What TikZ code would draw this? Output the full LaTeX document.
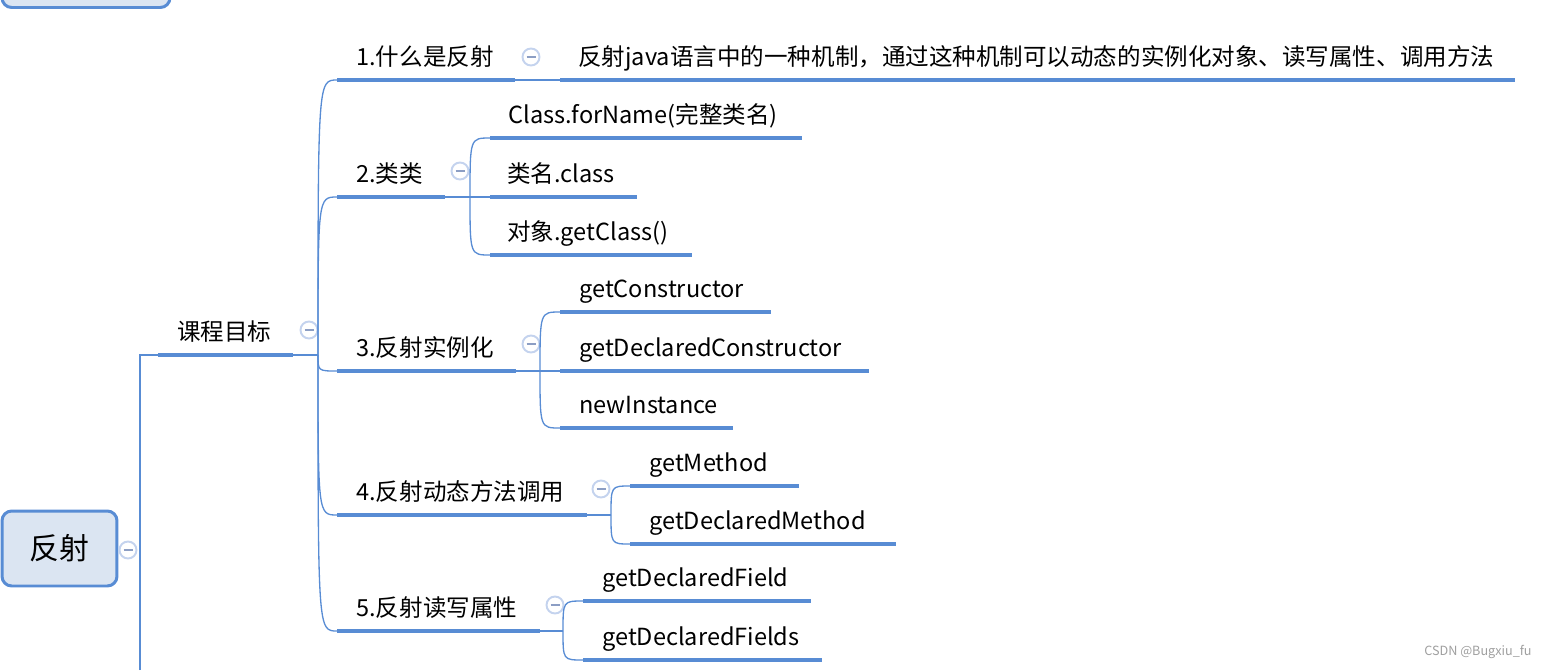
\documentclass[tikz,border=0pt]{standalone}
\usepackage{fontspec}
\setmainfont{Noto Sans CJK SC}
\usetikzlibrary{calc}
\definecolor{mmblue}{RGB}{88,140,212}
\definecolor{mmfill}{RGB}{219,229,242}
\definecolor{mmring}{RGB}{196,211,238}
\definecolor{mmminus}{RGB}{140,158,196}
\tikzset{
  fold/.style={circle,draw=mmring,line width=1.1pt,fill=white,
               minimum size=0.34cm,inner sep=0pt,
               path picture={\draw[mmminus,line width=0.8pt]
                 (path picture bounding box.center) +(-4.5,0) -- +(4.5,0);}},
}
\begin{document}
\begin{tikzpicture}[
  x=0.02cm,y=-0.02cm,
  every node/.style={font=\fontsize{13.4}{16}\selectfont},
  topic/.style={anchor=base west,inner sep=0pt},
  uline/.style={draw=mmblue,line width=2.3pt},
  conn/.style={draw=mmblue,line width=0.75pt},
  rootbox/.style={draw=mmblue,line width=1.7pt,fill=mmfill,rounded corners=5.5pt,
                  minimum width=2.3cm,minimum height=1.5cm,
                  font=\fontsize{17}{20}\selectfont}
]
\clip (0,0) rectangle (1547,670);

% cut-off topic above and the central topic
\node[rootbox,minimum width=3.36cm] (prev) at (86,-30) {};
\node[rootbox] (root) at (59.5,548.5) {反射};
\node[fold] (f0) at (128,550) {};

% main branch
\node[topic] (k0) at (177,340) {课程目标};
\draw[uline] (158,355) coordinate (k0w) -- (293,355) coordinate (k0e);
\node[fold] (fk0) at (309,330) {};
\coordinate (rb) at (140,670);
\coordinate (k0j) at (318,355);
\draw[conn] (rb) |- (k0w);
\draw[conn] (k0e) -- (k0j);

% 1
\node[topic] (t1) at (356,65) {1.什么是反射};
\draw[uline] (337,80) coordinate (t1w) -- (515,80) coordinate (t1e);
\node[fold] (ft1) at (531,57) {};
\node[topic] (a1) at (578,65) {反射java语言中的一种机制，通过这种机制可以动态的实例化对象、读写属性、调用方法};
\draw[uline] (560,80) coordinate (a1w) -- (1515,80);
\draw[conn] (t1e) -- (a1w);

% 2
\node[topic] (t2) at (356,182) {2.类类};
\draw[uline] (337,197) coordinate (t2w) -- (445,197) coordinate (t2e);
\node[fold] (ft2) at (460,171) {};
\coordinate (t2j) at (470,197);
\node[topic] (b1) at (508,123) {Class.forName(完整类名)};
\draw[uline] (490,138) coordinate (b1w) -- (802,138);
\node[topic] (b2) at (507,182) {类名.class};
\draw[uline] (490,197) coordinate (b2w) -- (637,197);
\node[topic] (b3) at (507,240) {对象.getClass()};
\draw[uline] (490,255) coordinate (b3w) -- (692,255);
\draw[conn] (t2e) -- (b2w);
\draw[conn] (t2j) .. controls (t2j |- b1w) .. (b1w);
\draw[conn] (t2j) .. controls (t2j |- b3w) .. (b3w);

% 3
\node[topic] (t3) at (356,356) {3.反射实例化};
\draw[uline] (337,371) coordinate (t3w) -- (516,371) coordinate (t3e);
\node[fold] (ft3) at (531,344) {};
\coordinate (t3j) at (540,371);
\node[topic] (c1) at (579,297) {getConstructor};
\draw[uline] (560,312) coordinate (c1w) -- (771,312);
\node[topic] (c2) at (579,356) {getDeclaredConstructor};
\draw[uline] (560,371) coordinate (c2w) -- (869,371);
\node[topic] (c3) at (579,413) {newInstance};
\draw[uline] (560,428) coordinate (c3w) -- (733,428);
\draw[conn] (t3e) -- (c2w);
\draw[conn] (t3j) .. controls (t3j |- c1w) .. (c1w);
\draw[conn] (t3j) .. controls (t3j |- c3w) .. (c3w);

% 4
\node[topic] (t4) at (356,500) {4.反射动态方法调用};
\draw[uline] (337,515) coordinate (t4w) -- (587,515) coordinate (t4e);
\node[fold] (ft4) at (601,489) {};
\coordinate (t4j) at (611,515);
\node[topic] (d1) at (649,471) {getMethod};
\draw[uline] (630,486) coordinate (d1w) -- (799,486);
\node[topic] (d2) at (649,529) {getDeclaredMethod};
\draw[uline] (630,544) coordinate (d2w) -- (896,544);
\draw[conn] (t4e) -- (t4j);
\draw[conn] (t4j) .. controls (t4j |- d1w) .. (d1w);
\draw[conn] (t4j) .. controls (t4j |- d2w) .. (d2w);

% 5
\node[topic] (t5) at (356,616) {5.反射读写属性};
\draw[uline] (337,631) coordinate (t5w) -- (540,631) coordinate (t5e);
\node[fold] (ft5) at (555,605) {};
\coordinate (t5j) at (563,631);
\node[topic] (e1) at (602,586) {getDeclaredField};
\draw[uline] (583,601) coordinate (e1w) -- (811,601);
\node[topic] (e2) at (602,645) {getDeclaredFields};
\draw[uline] (583,660) coordinate (e2w) -- (822,660);
\draw[conn] (t5e) -- (t5j);
\draw[conn] (t5j) .. controls (t5j |- e1w) .. (e1w);
\draw[conn] (t5j) .. controls (t5j |- e2w) .. (e2w);

% main branch to sub-topics
\foreach \t in {t1w,t2w,t3w,t4w,t5w}
  \draw[conn] (k0j) .. controls (k0j |- \t) .. (\t);

\node[anchor=east,inner sep=0pt,text=gray!75,font=\fontsize{7.2}{9}\selectfont]
  (wm) at (1532,652) {CSDN @Bugxiu\_fu};
\end{tikzpicture}
\end{document}
